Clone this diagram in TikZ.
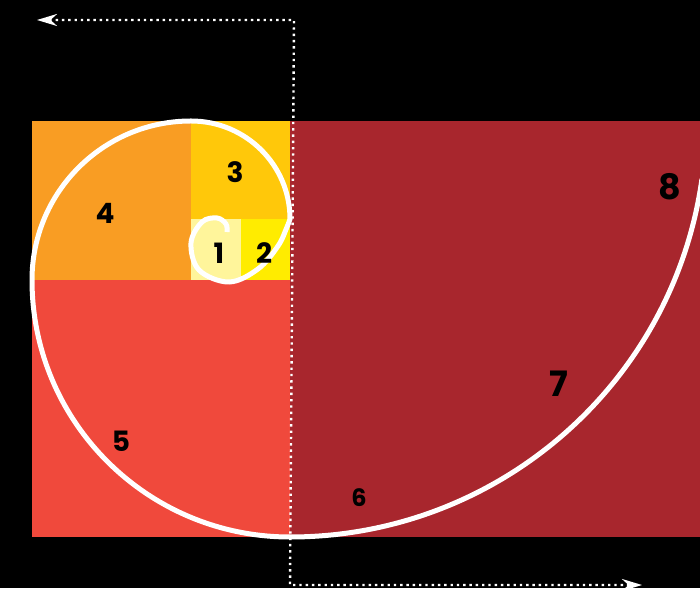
\documentclass[tikz,border=0pt]{standalone}
\usepackage{fontspec}
\setmainfont{Poppins}
\usetikzlibrary{arrows.meta}

\definecolor{sqone}{RGB}{255,245,155}
\definecolor{sqtwo}{RGB}{255,236,0}
\definecolor{sqthree}{RGB}{255,200,10}
\definecolor{sqfour}{RGB}{249,157,35}
\definecolor{sqfive}{RGB}{240,73,60}
\definecolor{sqbig}{RGB}{168,38,45}

\begin{document}
\begin{tikzpicture}[
    x=1pt, y=1pt,
    num/.style={font=\bfseries\fontsize{28}{28}\selectfont, inner sep=0pt},
    midnum/.style={num, font=\bfseries\fontsize{24}{24}\selectfont},
    bignum/.style={num, font=\bfseries\fontsize{35}{35}\selectfont},
    spiral/.style={white, line width=5pt},
    dotline/.style={white, line width=2.4pt, dash pattern=on 2.4pt off 3.9pt},
    >={Stealth[length=20pt,width=12pt]}
  ]

  \fill[black] (0,0) rectangle (700,588);
  \clip (0,0) rectangle (700,588);

  % the squares
  \fill[sqbig] (290,51) rectangle (700,467);
  \fill[sqfive] (32,51) rectangle (290,308);
  \fill[sqfour] (32,308) rectangle (191,467);
  \fill[sqthree] (191,369) rectangle (290,467);
  \fill[sqone] (191,308) rectangle (241,369);
  \fill[sqtwo] (241,308) rectangle (290,369);

  % the spiral
  \draw[spiral] plot[smooth, tension=0.6] coordinates {
      (227,356) (226,364) (217,370) (202,366) (191,345) (199,318)
      (229,306) (258,319) (278,342) (287,361) (290,369)}
    arc[start angle=0, end angle=90, x radius=99, y radius=98]
    arc[start angle=90, end angle=180, radius=159]
    arc[start angle=180, end angle=270, x radius=258, y radius=257]
    arc[start angle=270, end angle=352, radius=416];

  % the numbers
  \node[num] (n1) at (219,335) {1};
  \node[num] (n2) at (264,335) {2};
  \node[num] (n3) at (235,416) {3};
  \node[num] (n4) at (105,375) {4};
  \node[num] (n5) at (121,147) {5};
  \node[midnum] (n6) at (359,90) {6};
  \node[bignum] (n7) at (559,204) {7};
  \node[bignum] (n8) at (670,401) {8};

  % the dotted arrows
  \coordinate (topend) at (37,568);
  \coordinate (topturn) at (294,568);
  \coordinate (lowturn) at (290,3);
  \coordinate (lowend) at (642,3);
  \draw[dotline, <->] (topend) -- (topturn) -- (lowturn) -- (lowend);

\end{tikzpicture}
\end{document}
